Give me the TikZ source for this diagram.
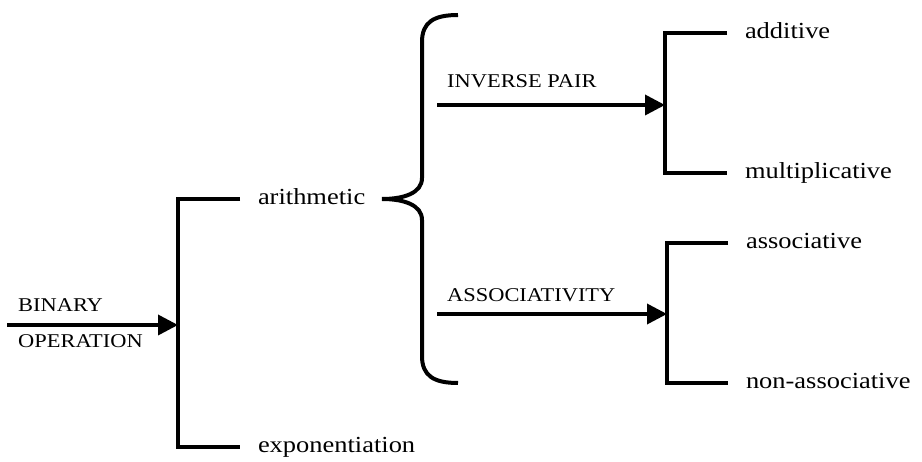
\documentclass[tikz,border=0pt]{standalone}
\usepackage{fontspec}
\setmainfont[FakeStretch=1.15]{Liberation Serif}
\usetikzlibrary{arrows.meta}

\begin{document}
\begin{tikzpicture}[x=1pt,y=-1pt,
  word/.style={anchor=west,inner sep=0pt,outer xsep=18pt,text height=16pt,text depth=4pt,font=\fontsize{23}{24}\selectfont},
  caps/.style={anchor=base west,inner sep=0pt,font=\fontsize{19.5}{21}\selectfont},
  bracket/.style={line width=4pt},
  flow/.style={line width=3.6pt,-{Triangle[length=20pt,width=20pt]}}]
\useasboundingbox (0,0) rectangle (922,462);
\node[word] (arith) at (240,199) {arithmetic};
\node[word] (expo) at (240,447) {exponentiation};
\node[word] (add) at (727,33) {additive};
\node[word] (mult) at (727,173) {multiplicative};
\node[word] (assoc) at (728,243) {associative};
\node[word] (nonassoc) at (728,383) {non-associative};
\node[caps] (bin) at (18,312) {BINARY};
\node[caps] (oper) at (18,348) {OPERATION};
\node[caps] (inv) at (447,88) {INVERSE PAIR};
\node[caps] (assy) at (447,302) {ASSOCIATIVITY};
\coordinate (in1) at (7,325);
\coordinate (fork1) at (178,325);
\coordinate (in2) at (437,105);
\coordinate (fork2) at (665,105);
\coordinate (in3) at (437,314);
\coordinate (fork3) at (667,314);
\foreach \up/\f/\down in {arith/fork1/expo, add/fork2/mult, assoc/fork3/nonassoc}
  \draw[bracket] (\up) -| (\f) |- (\down);
\foreach \a/\b in {in1/fork1, in2/fork2, in3/fork3}
  \draw[flow] (\a) -- (\b);
\draw[line width=4pt] (458,15) .. controls (434,15) and (422,22) .. (422,42) -- (422,178)
  .. controls (422,193) and (404,199) .. (382,199)
  .. controls (404,199) and (422,205) .. (422,220) -- (422,356)
  .. controls (422,376) and (434,383) .. (458,383);
\end{tikzpicture}
\end{document}
